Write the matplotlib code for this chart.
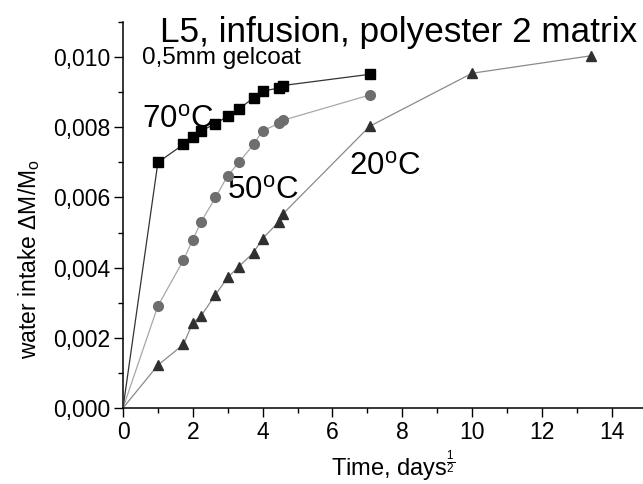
import numpy as np
import matplotlib
matplotlib.use('Agg')
import matplotlib.pyplot as plt
from matplotlib.ticker import MultipleLocator, FuncFormatter

plt.rcParams['font.family'] = ['Liberation Sans', 'DejaVu Sans']
plt.rcParams['mathtext.fontset'] = 'custom'
plt.rcParams['mathtext.rm'] = 'Liberation Sans'
plt.rcParams['mathtext.it'] = 'Liberation Sans'

# data: sqrt(days) vs dM/M0
t_70 = [0, 1.0, 1.73, 2.0, 2.24, 2.65, 3.0, 3.32, 3.74, 4.0, 4.47, 4.58, 7.07]
m_70 = [0, 0.0070, 0.00751, 0.00771, 0.0079, 0.0081, 0.00832, 0.00852, 0.00884, 0.00903, 0.00912, 0.00919, 0.00951]

t_50 = [0, 1.0, 1.73, 2.0, 2.24, 2.65, 3.0, 3.32, 3.74, 4.0, 4.47, 4.58, 7.07]
m_50 = [0, 0.00291, 0.00421, 0.00480, 0.00531, 0.0060, 0.00662, 0.0070, 0.00751, 0.0079, 0.00811, 0.0082, 0.00892]

t_20 = [0, 1.0, 1.73, 2.0, 2.24, 2.65, 3.0, 3.32, 3.74, 4.0, 4.47, 4.58, 7.07, 10.0, 13.42]
m_20 = [0, 0.00122, 0.00181, 0.00243, 0.00263, 0.00323, 0.00372, 0.00403, 0.00443, 0.00483, 0.00531, 0.00553, 0.00803, 0.00954, 0.01004]

fig = plt.figure(figsize=(6.43, 4.84), dpi=100)
ax = fig.add_axes([0.1913, 0.157, 0.8087, 0.7975])

ax.plot(t_70, m_70, '-', color='#333333', lw=0.9, zorder=3)
ax.plot(t_70[1:], m_70[1:], 's', color='black', ms=6.5, ls='none', zorder=4)
ax.plot(t_50, m_50, '-', color='#a8a8a8', lw=0.9, zorder=2)
ax.plot(t_50[1:], m_50[1:], 'o', color='#6e6e6e', ms=7, ls='none', zorder=4)
ax.plot(t_20, m_20, '-', color='#8a8a8a', lw=0.9, zorder=2)
ax.plot(t_20[1:], m_20[1:], '^', color='#303030', ms=7.5, ls='none', zorder=4)

ax.set_xlim(0, 14.9)
ax.set_ylim(0, 0.011)
ax.spines['top'].set_visible(False)
ax.spines['right'].set_visible(False)
ax.xaxis.set_major_locator(MultipleLocator(2))
ax.xaxis.set_minor_locator(MultipleLocator(1))
ax.yaxis.set_major_locator(MultipleLocator(0.002))
ax.yaxis.set_minor_locator(MultipleLocator(0.001))
ax.yaxis.set_major_formatter(FuncFormatter(lambda v, p: f'{v:.3f}'.replace('.', ',')))
ax.tick_params(which='major', length=6.5, width=1, labelsize=16.5, colors='black', pad=2.5)
ax.tick_params(which='minor', length=3.5, width=1)
for s in ['left', 'bottom']:
    ax.spines[s].set_linewidth(1.1)

ax.set_xlabel(r'Time, days$^{\frac{1}{2}}$', fontsize=17)
ax.xaxis.set_label_coords(0.52, -0.105)
ax.set_ylabel(r'water intake $\Delta$M/M$_{\rm o}$', fontsize=16.5)
ax.yaxis.set_label_coords(-0.155, 0.385)

ax.text(1.06, 0.0107, 'L5, infusion, polyester 2 matrix', fontsize=25.3, va='center', ha='left')
ax.text(0.54, 0.00997, '0,5mm gelcoat', fontsize=17.5, va='center', ha='left')
ax.text(0.54, 0.0082, r'70$^{\rm o}$C', fontsize=22.5, va='center', ha='left')
ax.text(2.97, 0.0062, r'50$^{\rm o}$C', fontsize=22.5, va='center', ha='left')
ax.text(6.49, 0.00687, r'20$^{\rm o}$C', fontsize=22.5, va='center', ha='left')

fig.savefig('out.png', dpi=100)
